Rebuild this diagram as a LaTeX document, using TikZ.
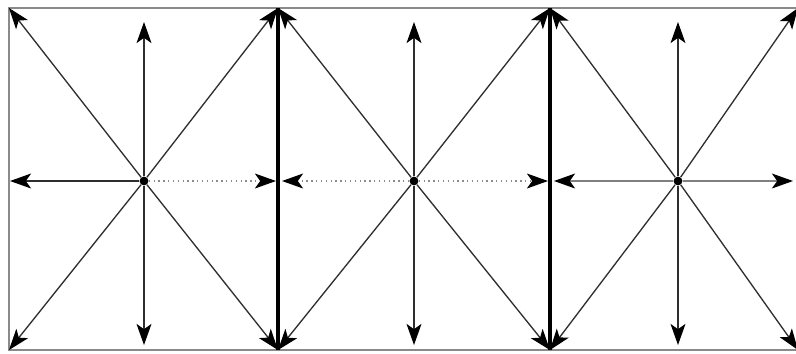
\documentclass[tikz,border=0pt]{standalone}
\usetikzlibrary{arrows.meta}
\definecolor{raygray}{HTML}{2E2E2E}
\definecolor{framegray}{HTML}{8A8A8A}

\begin{document}
\begin{tikzpicture}[x=0.02cm, y=-0.02cm,
  ray/.style={-{Stealth[length=12pt,width=8.5pt,inset=3pt,fill=black,color=black]}, draw=raygray, line width=0.75pt},
  faint/.style={ray, dotted, draw=black!45},
  hub/.style={circle, fill=black, inner sep=0pt, minimum size=5pt},
  frame/.style={draw=framegray, line width=0.9pt},
  wall/.style={draw=black, line width=1.8pt}
]
  \useasboundingbox (0,0) rectangle (796,353);
  \fill[white] (0,0) rectangle (796,353);

  % frame and walls
  \draw[frame] (796,8) -- (9,8) -- (9,350) -- (796,350);
  \draw[wall] (278,8) -- (278,350);
  \draw[wall] (550,8) -- (550,350);

  % three cells: left, centre, right, west tip, east tip
  \foreach \n/\l/\c/\r/\wx/\ex in {1/9/144/278/10/276, 2/278/414/550/282/548, 3/550/678/798/554/793} {
    \node[hub] (hub\n) at (\c,181) {};
    \coordinate (nw\n) at (\l,8);
    \coordinate (ne\n) at (\r,8);
    \coordinate (sw\n) at (\l,350);
    \coordinate (se\n) at (\r,350);
    \coordinate (n\n) at (\c,22);
    \coordinate (s\n) at (\c,345);
    \coordinate (w\n) at (\wx,181);
    \coordinate (e\n) at (\ex,181);
    \foreach \t in {nw,ne,sw,se,n,s}
      \draw[ray] (hub\n) -- (\t\n);
  }

  % horizontal rays
  \draw[ray] (hub1) -- (w1);
  \draw[faint] (hub1) -- (e1);
  \draw[faint] (hub2) -- (w2);
  \draw[faint] (hub2) -- (e2);
  \draw[ray, draw=black!50] (hub3) -- (w3);
  \draw[ray, draw=black!50] (hub3) -- (e3);
\end{tikzpicture}
\end{document}
